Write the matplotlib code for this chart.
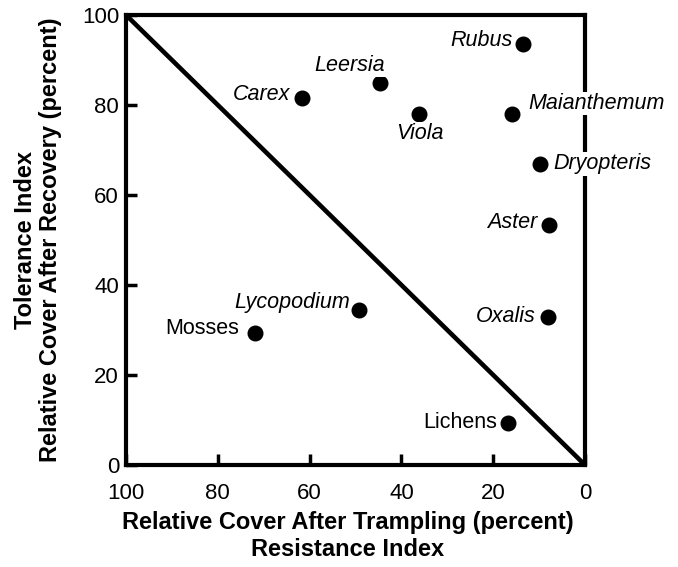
import matplotlib
matplotlib.use('Agg')
import matplotlib.pyplot as plt

plt.rcParams['font.family'] = ['Liberation Sans', 'DejaVu Sans']

# data
species = ['Rubus', 'Leersia', 'Carex', 'Viola', 'Maianthemum', 'Dryopteris',
           'Aster', 'Oxalis', 'Lichens', 'Lycopodium', 'Mosses']
resistance = [13.6, 44.7, 61.6, 36.1, 15.8, 9.8, 7.8, 8.0, 16.8, 49.2, 71.8]
tolerance = [93.5, 84.8, 81.6, 77.9, 77.9, 66.9, 53.3, 33.0, 9.3, 34.4, 29.3]
italic = [True, True, True, True, True, True, True, True, False, True, False]

# label placement (pixel offsets, alignment)
offsets = {
    'Rubus': (-10, 4, 'right'),
    'Leersia': (5, 18, 'right'),
    'Carex': (-12, 3, 'right'),
    'Viola': (1, -19, 'center'),
    'Maianthemum': (16, 11, 'left'),
    'Dryopteris': (13, 0, 'left'),
    'Aster': (-12, 3, 'right'),
    'Oxalis': (-13, 0, 'right'),
    'Lichens': (-11, 1, 'right'),
    'Lycopodium': (-9, 8, 'right'),
    'Mosses': (-16, 5, 'right'),
}

ticks = [0, 20, 40, 60, 80, 100]

fig = plt.figure(figsize=(6.78, 5.67), dpi=100)
ax = fig.add_axes([126 / 678, 1 - 465 / 567, 459 / 678, 450 / 567])

ax.plot([100, 0], [100, 0], color='black', lw=3.3, solid_capstyle='butt', zorder=2)
ax.plot(resistance, tolerance, 'o', color='black', ms=10.5, zorder=4, clip_on=False)

px = 0.72  # pixels -> points at dpi 100
for name, x, y, it in zip(species, resistance, tolerance, italic):
    dx, dy, ha = offsets[name]
    ax.annotate(name, (x, y), xytext=(dx * px, dy * px), textcoords='offset points',
                ha=ha, va='center', fontsize=15.5,
                style='italic' if it else 'normal',
                annotation_clip=False, zorder=5,
                bbox=dict(facecolor='white', edgecolor='none', pad=1))

ax.set_xlim(100, 0)
ax.set_ylim(0, 100)
ax.set_xticks(ticks)
ax.set_yticks(ticks)
ax.tick_params(direction='in', length=8, width=2.5, labelsize=16)
ax.tick_params(axis='x', pad=13)
ax.tick_params(axis='y', pad=5)
for s in ax.spines.values():
    s.set_linewidth(3)

fig.text(348 / 678, 1 - 522 / 567, 'Relative Cover After Trampling (percent)',
         ha='center', va='center', fontsize=17, fontweight='bold')
fig.text(348 / 678, 1 - 550 / 567, 'Resistance Index',
         ha='center', va='center', fontsize=17, fontweight='bold')
fig.text(26 / 678, 1 - 240 / 567, 'Tolerance Index', rotation=90,
         ha='center', va='center', fontsize=17, fontweight='bold')
fig.text(51 / 678, 1 - 240 / 567, 'Relative Cover After Recovery (percent)', rotation=90,
         ha='center', va='center', fontsize=17, fontweight='bold')

fig.savefig('out.png', dpi=100)
